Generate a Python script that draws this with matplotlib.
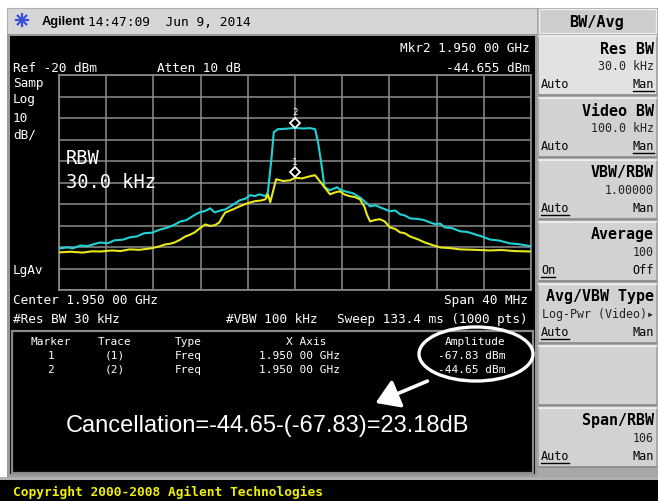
import numpy as np
import matplotlib
matplotlib.use("Agg")
import matplotlib.pyplot as plt
from matplotlib.patches import Rectangle, Ellipse, FancyArrowPatch

# Trace 2 (cyan) - frequency offset from centre (MHz) and level (dBm)
freq_cyan = [-20.0, -19.3, -18.8, -18.2, -17.6, -17.0, -16.5, -15.9, -15.3, -14.6,
             -14.0, -13.4, -12.8, -12.1, -11.4, -10.8, -10.2, -9.7, -9.2, -8.6,
             -8.1, -7.6, -7.2, -6.8, -6.3, -5.9, -5.3, -4.7, -4.2, -3.8,
             -3.4, -3.0, -2.5, -2.3, -2.0, -1.8, -1.45, -0.8, 0.0, 0.7,
             1.27, 1.7, 1.95, 2.3, 2.5, 2.97, 3.3, 3.56, 3.9, 4.24,
             4.9, 5.5, 5.9, 6.36, 6.8, 7.2, 7.6, 8.05, 8.5, 8.9,
             9.3, 9.75, 10.3, 10.9, 11.4, 11.9, 12.3, 12.7, 13.3, 14.0,
             14.6, 15.25, 15.9, 16.5, 17.3, 18.2, 19.0, 20.0]
level_cyan = [-100.7, -100.2, -100.6, -99.3, -99.6, -98.6, -97.9, -98.3, -96.9, -96.6,
              -95.5, -95.1, -93.6, -93.3, -91.8, -91.0, -89.6, -88.1, -87.5, -85.4,
              -83.9, -83.2, -82.0, -83.9, -83.0, -82.5, -80.5, -78.3, -77.5, -75.9,
              -76.3, -75.5, -76.4, -74.5, -59.2, -46.6, -45.2, -45.0, -44.6, -44.9,
              -44.7, -45.2, -51.2, -63.8, -72.2, -73.6, -72.8, -72.2, -73.5, -74.1,
              -75.0, -76.9, -78.8, -81.1, -80.6, -81.5, -82.4, -83.4, -83.0, -84.8,
              -85.3, -86.7, -86.9, -87.4, -88.5, -89.4, -89.1, -90.9, -91.2, -92.7,
              -93.0, -94.1, -95.2, -96.5, -97.0, -98.3, -98.7, -99.7]

# Trace 1 (yellow)
freq_yellow = [-20.0, -19.0, -18.0, -17.2, -16.5, -15.5, -14.8, -14.0, -13.2, -12.3,
               -11.6, -11.0, -10.6, -10.2, -9.7, -9.3, -8.9, -8.5, -8.0, -7.6,
               -7.2, -6.8, -6.4, -6.1, -5.9, -5.3, -4.7, -4.0, -3.4, -2.9,
               -2.5, -2.3, -2.1, -1.86, -1.6, -1.0, -0.42, 0.0, 0.6, 1.27,
               1.7, 2.1, 2.5, 2.97, 3.4, 3.8, 4.2, 4.66, 5.1, 5.5,
               5.9, 6.1, 6.36, 6.8, 7.2, 7.6, 8.05, 8.5, 8.9, 9.3,
               9.75, 10.4, 11.0, 11.6, 12.3, 13.1, 14.0, 15.2, 16.5, 17.5,
               18.6, 20.0]
level_yellow = [-102.5, -102.2, -102.6, -102.0, -102.1, -101.6, -101.9, -101.1, -101.3, -100.7,
                -99.9, -98.8, -98.5, -97.9, -96.5, -95.1, -94.3, -93.2, -91.0, -89.5,
                -90.2, -89.9, -88.5, -85.5, -83.9, -82.6, -81.1, -79.6, -78.7, -78.4,
                -77.8, -75.5, -79.2, -74.1, -68.5, -69.3, -69.0, -67.8, -68.1, -67.1,
                -66.6, -69.4, -72.2, -75.5, -74.6, -74.1, -75.6, -76.4, -76.8, -77.8,
                -81.5, -85.0, -88.1, -87.4, -87.1, -88.1, -90.9, -91.6, -93.2, -93.6,
                -95.1, -96.4, -97.9, -99.0, -100.2, -100.5, -101.1, -101.3, -101.6, -101.4,
                -101.9, -102.1]

marker_labels = ["2", "1"]
marker_freqs = [0.0, 0.0]
marker_levels = [-44.655, -67.83]

softkeys = [
    ("Res BW", "30.0 kHz", "Auto", "Man", "right"),
    ("Video BW", "100.0 kHz", "Auto", "Man", "right"),
    ("VBW/RBW", "1.00000", "Auto", "Man", "left"),
    ("Average", "100", "On", "Off", "left"),
    ("Avg/VBW Type", "Log-Pwr (Video)\u25b8", "Auto", "Man", "left"),
    ("", "", "", "", None),
    ("Span/RBW", "106", "Auto", "Man", "left"),
]

MONO = "DejaVu Sans Mono"
W, H = 658, 502

fig = plt.figure(figsize=(W / 100, H / 100), dpi=100)
fig.patch.set_facecolor("white")

# full-figure pixel canvas for the instrument frame
bg = fig.add_axes([0, 0, 1, 1])
bg.set_xlim(0, W)
bg.set_ylim(H, 0)
bg.axis("off")

# title bar
bg.add_patch(Rectangle((7, 9), 530, 26, fc="#d6d6d6", ec="#b0b0b0", lw=0.8))
for ang in [0, 45, 90, 135]:
    a = np.deg2rad(ang)
    bg.plot([22 - 6 * np.cos(a), 22 + 6 * np.cos(a)], [21 - 6 * np.sin(a), 21 + 6 * np.sin(a)],
            color="#3a4fd8", lw=1.6)
bg.text(42, 22, "Agilent", fontsize=9.3, fontweight="bold", color="black", va="center",
        family="Liberation Sans")
bg.text(88, 22, "14:47:09  Jun 9, 2014", fontsize=9.3, color="black", va="center", family=MONO)

# black screen
bg.add_patch(Rectangle((7, 35), 530, 443, fc="#9a9a9a", ec="none"))
bg.add_patch(Rectangle((10, 37), 525, 438, fc="black", ec="none"))

# softkey panel
bg.add_patch(Rectangle((537, 9), 121, 469, fc="#a8a8a8", ec="none"))
bg.add_patch(Rectangle((539, 10), 117, 24, fc="#cdcdcd", ec="#eeeeee", lw=1))
bg.text(597, 22, "BW/Avg", fontsize=11, fontweight="bold", family=MONO, ha="center", va="center")
charw = 6.9
for i, (title, value, left, right, under) in enumerate(softkeys):
    y0 = 37 + i * 62
    fc = "#e2e2e2" if i == 0 else "#d2d2d2"
    bg.add_patch(Rectangle((539, y0), 117, 59, fc=fc, ec="none"))
    bg.plot([539, 656], [y0, y0], color="#f4f4f4", lw=1.2)
    bg.plot([539, 656], [y0 + 59, y0 + 59], color="#888888", lw=1.2)
    if title:
        bg.text(654, y0 + 12, title, fontsize=10.8, fontweight="bold", family=MONO,
                ha="right", va="center")
        bg.text(654, y0 + 30, value, fontsize=8.4, family=[MONO, "DejaVu Sans"],
                ha="right", va="center", color="#222222")
        bg.text(541, y0 + 48, left, fontsize=8.6, family=MONO, ha="left", va="center")
        bg.text(654, y0 + 48, right, fontsize=8.6, family=MONO, ha="right", va="center")
        if under == "left":
            bg.plot([541, 541 + len(left) * charw], [y0 + 55, y0 + 55], color="black", lw=1)
        elif under == "right":
            bg.plot([654 - len(right) * charw, 654], [y0 + 55, y0 + 55], color="black", lw=1)

# copyright bar
bg.add_patch(Rectangle((0, 478), W, 24, fc="#b0b0b0", ec="none"))
bg.add_patch(Rectangle((0, 481), W, 21, fc="black", ec="none"))
bg.text(13, 492, "Copyright 2000-2008 Agilent Technologies", fontsize=9.3, fontweight="bold",
        color="#f0f000", family=MONO, va="center")

# annotations on the screen
txt = dict(color="white", family=MONO, fontsize=9.2, va="center")
bg.text(530, 48, "Mkr2 1.950 00 GHz", ha="right", **txt)
bg.text(13, 68, "Ref -20 dBm", ha="left", **txt)
bg.text(157, 68, "Atten 10 dB", ha="left", **txt)
bg.text(530, 68, "-44.655 dBm", ha="right", **txt)
for yy, s in [(83, "Samp"), (100, "Log"), (118, "10"), (135, "dB/"), (271, "LgAv")]:
    bg.text(13, yy, s, ha="left", **txt)
bg.text(13, 301, "Center 1.950 00 GHz", ha="left", **txt)
bg.text(528, 301, "Span 40 MHz", ha="right", **txt)
bg.text(13, 320, "#Res BW 30 kHz", ha="left", **txt)
bg.text(226, 320, "#VBW 100 kHz", ha="left", **txt)
bg.text(528, 320, "Sweep 133.4 ms (1000 pts)", ha="right", **txt)

# marker table
bg.add_patch(Rectangle((12, 332), 521, 142, fc="none", ec="#8a8a8a", lw=1.6))
small = dict(color="white", family=MONO, fontsize=8, va="center")
headers = ["Marker", "Trace", "Type", "X Axis", "Amplitude"]
rows = [["1", "(1)", "Freq", "1.950 00 GHz", "-67.83 dBm"],
        ["2", "(2)", "Freq", "1.950 00 GHz", "-44.65 dBm"]]
bg.text(51, 342, headers[0], ha="center", **small)
bg.text(115, 342, headers[1], ha="center", **small)
bg.text(188, 342, headers[2], ha="center", **small)
bg.text(326, 342, headers[3], ha="right", **small)
bg.text(475, 342, headers[4], ha="center", **small)
for r, yy in zip(rows, [356, 370]):
    bg.text(51, yy, r[0], ha="center", **small)
    bg.text(115, yy, r[1], ha="center", **small)
    bg.text(188, yy, r[2], ha="center", **small)
    bg.text(340, yy, r[3], ha="right", **small)
    bg.text(472, yy, r[4], ha="center", **small)

bg.add_patch(Ellipse((476, 355), 114, 54, fc="none", ec="white", lw=2.4))
bg.add_patch(FancyArrowPatch((430, 381), (373, 405), arrowstyle="-|>,head_length=7,head_width=4.5",
                             color="white", lw=2.6, mutation_scale=2))
bg.text(66, 426, "Cancellation=-44.65-(-67.83)=23.18dB", color="white", fontsize=17,
        family="Liberation Sans", va="center", ha="left")

# spectrum graticule
x0, y0, x1, y1 = 59, 76, 531, 291
ax = fig.add_axes([x0 / W, 1 - y1 / H, (x1 - x0) / W, (y1 - y0) / H])
ax.set_facecolor("black")
ax.set_xlim(-20, 20)
ax.set_ylim(-120, -20)
ax.set_xticks(np.arange(-20, 21, 4))
ax.set_yticks(np.arange(-120, -19, 10))
ax.tick_params(length=0, labelbottom=False, labelleft=False)
ax.grid(True, color="#8c8c8c", lw=1.1)
for sp in ax.spines.values():
    sp.set_color("#8c8c8c")
    sp.set_linewidth(1.2)

ax.plot(freq_cyan, level_cyan, color="#1fd2d6", lw=1.5, zorder=3)
ax.plot(freq_yellow, level_yellow, color="#e8e81a", lw=1.5, zorder=4)
for lab, f, lv in zip(marker_labels, marker_freqs, marker_levels):
    ax.plot(f, lv + 2.5, marker="D", ms=5, mfc="black", mec="white", mew=1.3, zorder=5)
    ax.text(f, lv + 7.5, lab, color="white", fontsize=6.5, family=MONO, ha="center",
            va="center", zorder=5)

ax.text(-19.4, -64, "RBW\n30.0 kHz", color="white", fontsize=13.5, family=MONO,
        va="center", ha="left", linespacing=1.3)

fig.savefig("out.png", dpi=100, facecolor=fig.get_facecolor())
